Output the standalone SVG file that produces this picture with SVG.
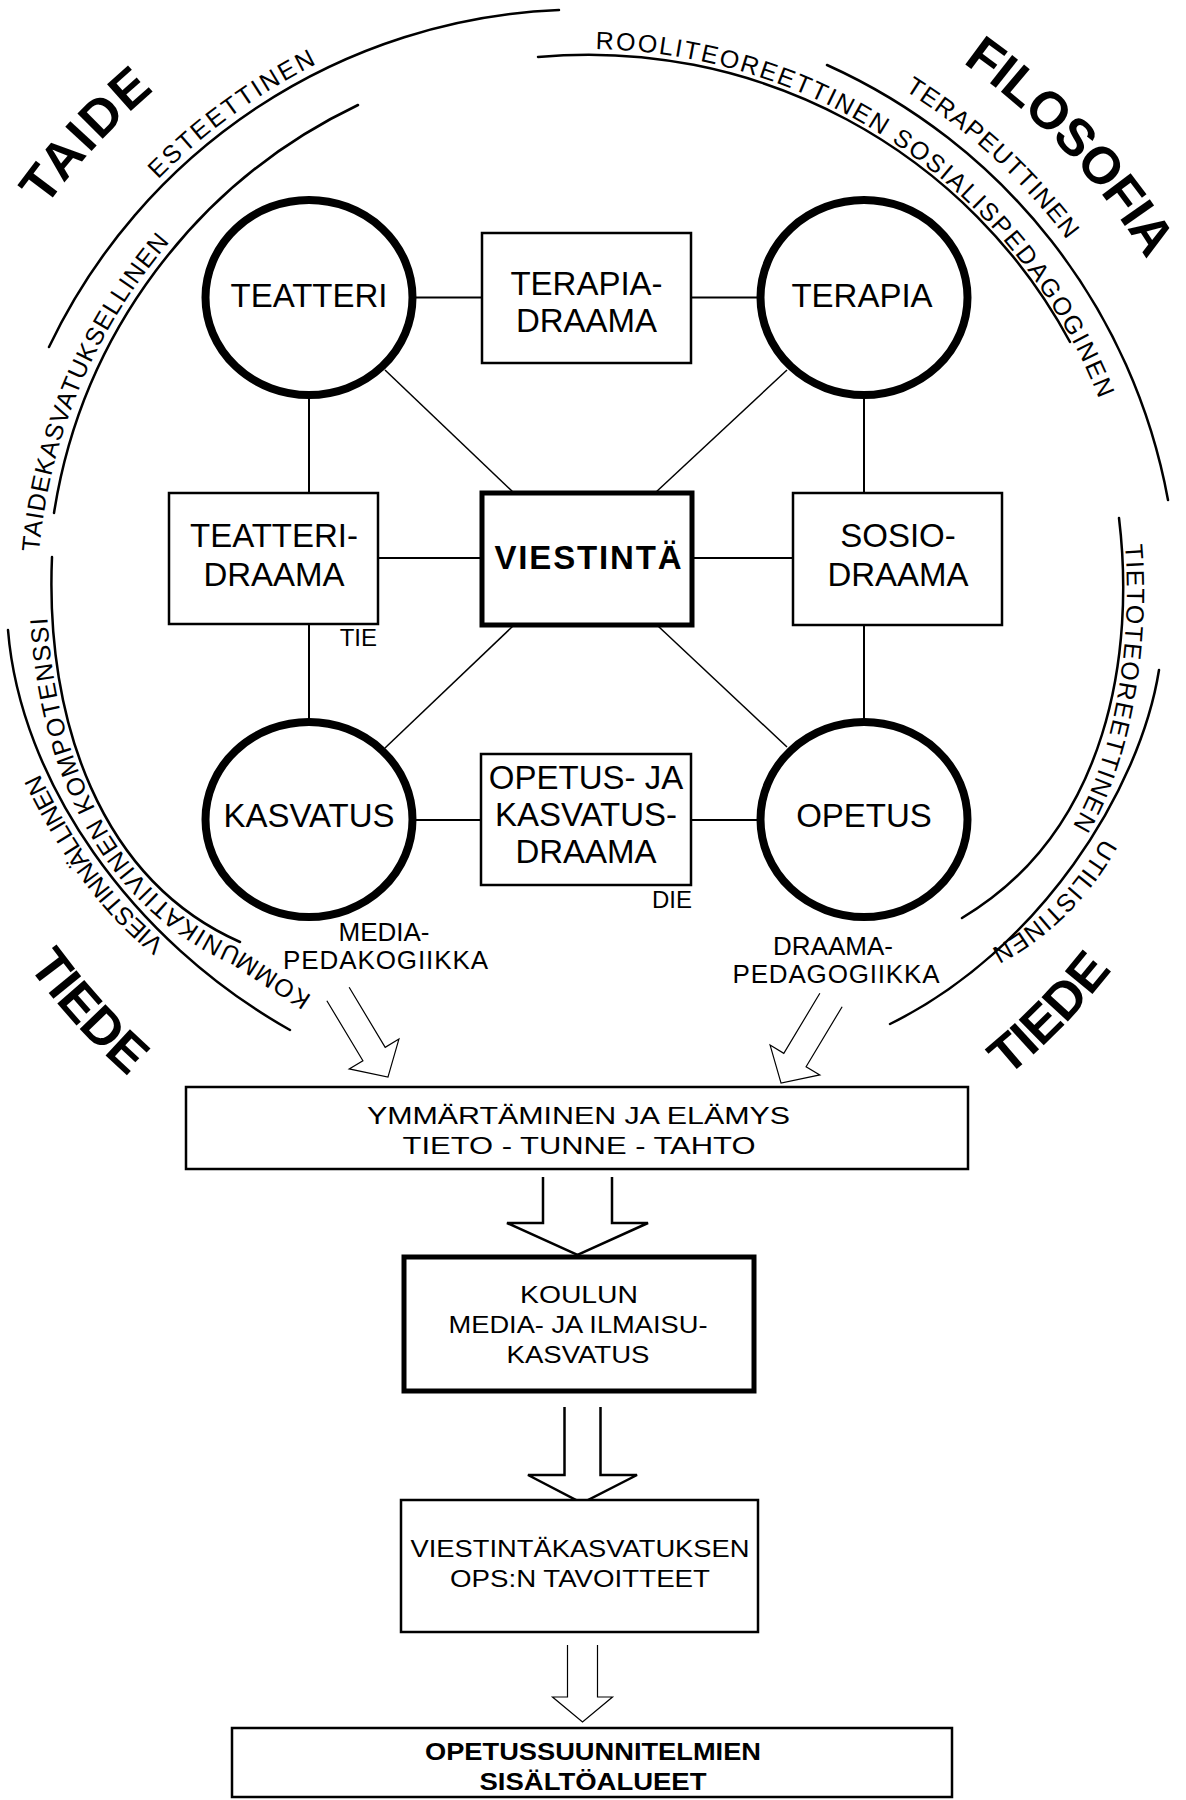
<svg xmlns="http://www.w3.org/2000/svg" width="1186" height="1800" viewBox="0 0 1186 1800">
  <style>
    text { font-family: "Liberation Sans", Arial, sans-serif; fill: #000; }
    .node { font-size: 33px; text-anchor: middle; }
    .small { font-size: 24px; }
    .ped { font-size: 26px; text-anchor: middle; }
    .curve { font-size: 25px; }
    .big { font-size: 52px; font-weight: bold; }
    .flow { font-size: 24px; text-anchor: middle; }
    .arc { fill: none; stroke: #000; stroke-width: 2.5; stroke-linecap: round; }
    .ln { stroke: #000; stroke-width: 2; }
    .dg { stroke: #000; stroke-width: 1.5; }
    .ring { fill: #fff; stroke: #000; stroke-width: 8; }
    .box { fill: #fff; stroke: #000; stroke-width: 2.5; }
    .heavy { fill: #fff; stroke: #000; stroke-width: 5; }
    .harrow { fill: #fff; stroke: #000; stroke-width: 2.5; stroke-linejoin: miter; }
    .tarrow { fill: #fff; stroke: #000; stroke-width: 1.2; }
  </style>
  <defs>
    <!-- baselines for the curved labels -->
    <path id="p-est" d="M158,179.5 A600,600 0 0 1 318.3,63.1"/>
    <path id="p-taide" d="M45.6,207.4 A668,668 0 0 1 156.6,88.3"/>
    <path id="p-tkas" d="M39.1,552.1 A549,549 0 0 1 171.7,239.8"/>
    <path id="p-rool" d="M595.6,49.1 A551,551 0 0 1 1100.4,402.5"/>
    <path id="p-ter" d="M904.5,90.3 A601,601 0 0 1 1069.1,242.5"/>
    <path id="p-filo" d="M962.3,62.6 A656,656 0 0 1 1148.3,262.1"/>
    <path id="p-tieto" d="M1125,545 C1133,640 1115,760 1070,830"/>
    <path id="p-util" d="M1103,838 Q1060,915 985,952"/>
    <path id="p-vies" d="M165,942 Q95,888 40,775"/>
    <path id="p-komm" d="M312,996 L238,948 C97,886 40,722 47,557"/>
    <path id="p-tiede1" d="M27.8,965.6 A690,690 0 0 0 128.8,1076.8"/>
    <path id="p-tiede2" d="M1007.5,1076.9 A667,667 0 0 0 1113.1,968.8"/>
  </defs>

  <!-- surrounding arcs -->
  <g id="arcs">
    <path class="arc" d="M559,10 A592,592 0 0 0 49,347"/>
    <path class="arc" d="M358,105 A545,545 0 0 0 54,513"/>
    <path class="arc" d="M538,57 A547,547 0 0 1 1070,342"/>
    <path class="arc" d="M827,65 A595,595 0 0 1 1168,500"/>
    <path class="arc" d="M1119,518 C1135,650 1110,830 962,918"/>
    <path class="arc" d="M1159,670 C1140,790 1040,950 890,1024"/>
    <path class="arc" d="M52,557 C45,720 100,880 240,942"/>
    <path class="arc" d="M8,630 C20,780 130,940 290,1030"/>
  </g>

  <!-- labels along the arcs -->
  <g id="arc-labels">
    <text class="big"><textPath href="#p-taide" textLength="160" lengthAdjust="spacing">TAIDE</textPath></text>
    <text class="curve"><textPath href="#p-est" textLength="197" lengthAdjust="spacing">ESTEETTINEN</textPath></text>
    <text class="curve"><textPath href="#p-tkas" textLength="342" lengthAdjust="spacing">TAIDEKASVATUKSELLINEN</textPath></text>
    <text class="curve"><textPath href="#p-rool" textLength="650" lengthAdjust="spacing">ROOLITEOREETTINEN SOSIALISPEDAGOGINEN</textPath></text>
    <text class="curve"><textPath href="#p-ter" textLength="222" lengthAdjust="spacing">TERAPEUTTINEN</textPath></text>
    <text class="big"><textPath href="#p-filo" textLength="272" lengthAdjust="spacing">FILOSOFIA</textPath></text>
    <text class="curve"><textPath href="#p-tieto" textLength="290" lengthAdjust="spacing">TIETOTEOREETTINEN</textPath></text>
    <text class="curve"><textPath href="#p-util" textLength="160" lengthAdjust="spacing">UTILISTINEN</textPath></text>
    <text class="curve"><textPath href="#p-vies" textLength="212" lengthAdjust="spacing">VIESTINNÄLLINEN</textPath></text>
    <text class="curve"><textPath href="#p-komm" textLength="490" lengthAdjust="spacing">KOMMUNIKATIIVINEN KOMPOTENSSI</textPath></text>
    <text class="big"><textPath href="#p-tiede1" textLength="150" lengthAdjust="spacing">TIEDE</textPath></text>
    <text class="big"><textPath href="#p-tiede2" textLength="150" lengthAdjust="spacing">TIEDE</textPath></text>
  </g>

  <!-- connectors between the nodes and the flow arrows -->
  <g id="connectors">
    <line class="ln" x1="412" y1="297.5" x2="482" y2="297.5"/>
    <line class="ln" x1="691" y1="297.5" x2="761" y2="297.5"/>
    <line class="ln" x1="309" y1="395" x2="309" y2="493"/>
    <line class="ln" x1="309" y1="624" x2="309" y2="722"/>
    <line class="ln" x1="864" y1="395" x2="864" y2="493"/>
    <line class="ln" x1="864" y1="625" x2="864" y2="722"/>
    <line class="ln" x1="378" y1="558" x2="482" y2="558"/>
    <line class="ln" x1="692" y1="558" x2="793" y2="558"/>
    <line class="ln" x1="412" y1="820" x2="481" y2="820"/>
    <line class="ln" x1="691" y1="820" x2="761" y2="820"/>
    <line class="dg" x1="385" y1="370" x2="514" y2="493"/>
    <line class="dg" x1="787" y1="370" x2="655" y2="493"/>
    <line class="dg" x1="513" y1="626" x2="385" y2="748"/>
    <line class="dg" x1="658" y1="626" x2="787" y2="747"/>

    <polyline class="tarrow" transform="translate(338,994) rotate(-31)" points="-13,0 -13,70 -29,70 0,97 29,70 13,70 13,0"/>
    <polyline class="tarrow" transform="translate(831,1000) rotate(31)" points="-13,0 -13,70 -29,70 0,97 29,70 13,70 13,0"/>
    <polyline class="harrow" points="543,1177 543,1223 507,1223 577.5,1255 648,1223 612,1223 612,1177"/>
    <polyline class="harrow" points="564.5,1407 564.5,1475 528,1475 582,1503 637,1475 600.5,1475 600.5,1407"/>
    <polyline class="tarrow" points="567.5,1645 567.5,1697 552.5,1697 582.5,1722 612.5,1697 597.5,1697 597.5,1645"/>
  </g>

  <g id="node-teatteri">
    <ellipse class="ring" cx="309" cy="297.5" rx="103.5" ry="97.5"/>
    <text class="node" x="309" y="307">TEATTERI</text>
  </g>
  <g id="node-terapia">
    <ellipse class="ring" cx="864" cy="297.5" rx="103.5" ry="97.5"/>
    <text class="node" x="862" y="307">TERAPIA</text>
  </g>
  <g id="node-kasvatus">
    <ellipse class="ring" cx="309" cy="819.5" rx="103.5" ry="97.5"/>
    <text class="node" x="309" y="827">KASVATUS</text>
  </g>
  <g id="node-opetus">
    <ellipse class="ring" cx="864" cy="819.5" rx="103.5" ry="97.5"/>
    <text class="node" x="864" y="827">OPETUS</text>
  </g>
  <g id="node-terapiadraama">
    <rect class="box" x="482" y="233" width="209" height="130"/>
    <text class="node" x="586.5" y="295">TERAPIA-</text>
    <text class="node" x="586.5" y="332">DRAAMA</text>
  </g>
  <g id="node-teatteridraama">
    <rect class="box" x="169" y="493" width="209" height="131"/>
    <text class="node" x="274" y="547">TEATTERI-</text>
    <text class="node" x="274" y="586">DRAAMA</text>
    <text class="small" x="377" y="646" text-anchor="end" font-size="23">TIE</text>
  </g>
  <g id="node-viestinta">
    <rect class="heavy" x="482" y="493" width="210" height="132"/>
    <text class="node" x="588" y="569" font-weight="bold" textLength="187" lengthAdjust="spacing">VIESTINTÄ</text>
  </g>
  <g id="node-sosiodraama">
    <rect class="box" x="793" y="493" width="209" height="132"/>
    <text class="node" x="898" y="547">SOSIO-</text>
    <text class="node" x="898" y="586">DRAAMA</text>
  </g>
  <g id="node-opetusdraama">
    <rect class="box" x="481" y="754" width="210" height="131"/>
    <text class="node" x="586" y="789">OPETUS- JA</text>
    <text class="node" x="586" y="826">KASVATUS-</text>
    <text class="node" x="586" y="863">DRAAMA</text>
    <text class="small" x="692" y="908" text-anchor="end" font-size="25">DIE</text>
  </g>
  <g id="label-mediapedagogiikka">
    <text class="ped" x="384" y="941">MEDIA-</text>
    <text class="ped" x="385.5" y="969" textLength="205" lengthAdjust="spacing">PEDAKOGIIKKA</text>
  </g>
  <g id="label-draamapedagogiikka">
    <text class="ped" x="833" y="955">DRAAMA-</text>
    <text class="ped" x="836" y="983" textLength="207" lengthAdjust="spacing">PEDAGOGIIKKA</text>
  </g>

  <g id="node-ymmartaminen">
    <rect class="box" x="186" y="1087" width="782" height="82"/>
    <text class="flow" x="578.5" y="1124" textLength="423" lengthAdjust="spacingAndGlyphs">YMMÄRTÄMINEN JA ELÄMYS</text>
    <text class="flow" x="579" y="1154" textLength="353" lengthAdjust="spacingAndGlyphs">TIETO - TUNNE - TAHTO</text>
  </g>
  <g id="node-koulun">
    <rect class="heavy" x="404" y="1257" width="350" height="134"/>
    <text class="flow" x="579" y="1303" textLength="118" lengthAdjust="spacingAndGlyphs">KOULUN</text>
    <text class="flow" x="578" y="1333" textLength="259" lengthAdjust="spacingAndGlyphs">MEDIA- JA ILMAISU-</text>
    <text class="flow" x="578" y="1363" textLength="143" lengthAdjust="spacingAndGlyphs">KASVATUS</text>
  </g>
  <g id="node-tavoitteet">
    <rect class="box" x="401" y="1500" width="357" height="132"/>
    <text class="flow" x="580" y="1557" textLength="339" lengthAdjust="spacingAndGlyphs">VIESTINTÄKASVATUKSEN</text>
    <text class="flow" x="580" y="1587" textLength="260" lengthAdjust="spacingAndGlyphs">OPS:N TAVOITTEET</text>
  </g>
  <g id="node-sisaltoalueet">
    <rect class="box" x="232" y="1728" width="720" height="69"/>
    <text class="flow" x="593" y="1760" font-weight="bold" textLength="336" lengthAdjust="spacingAndGlyphs">OPETUSSUUNNITELMIEN</text>
    <text class="flow" x="593" y="1790" font-weight="bold" textLength="227" lengthAdjust="spacingAndGlyphs">SISÄLTÖALUEET</text>
  </g>
</svg>
